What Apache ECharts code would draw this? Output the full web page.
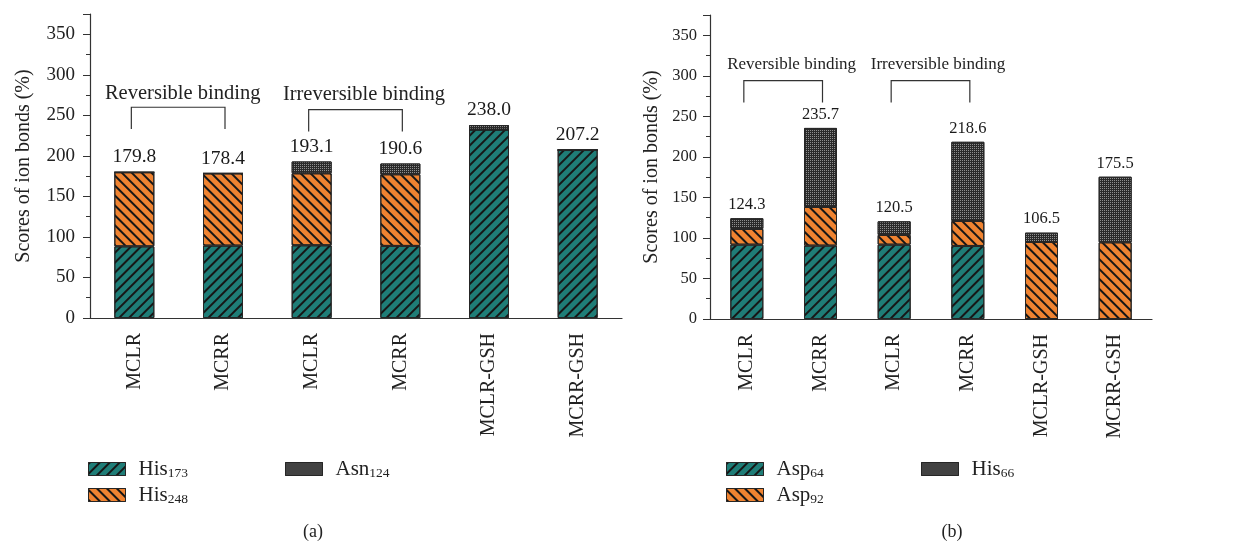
<!DOCTYPE html>
<html>
<head>
<meta charset="utf-8">
<script src="https://cdn.jsdelivr.net/npm/echarts@6/dist/echarts.min.js"></script>
<style>
  html, body { margin: 0; padding: 0; background: #fff; }
  #main { width: 1249px; height: 543px; }
</style>
</head>
<body>
<div id="main"></div>
<script>
// categories (same in both panels)
const categories = ['MCLR', 'MCRR', 'MCLR', 'MCRR', 'MCLR-GSH', 'MCRR-GSH']

// panel (a)
const his173 = [88.4, 89.3, 89.7, 88.9, 232.4, 207.2]
const his248 = [91.4, 89.1, 88.8, 88.4, 0, 0]
const asn124 = [0, 0, 14.6, 13.3, 5.6, 0]
const totalsA = [179.8, 178.4, 193.1, 190.6, 238.0, 207.2]

// panel (b)
const asp64 = [91.7, 90.5, 91.7, 90.1, 0, 0]
const asp92 = [19.4, 47.7, 12.0, 30.8, 95.0, 94.6]
const his66 = [13.2, 97.5, 16.8, 97.7, 11.5, 80.9]
const totalsB = [124.3, 235.7, 120.5, 218.6, 106.5, 175.5]

const yTicks = [0, 50, 100, 150, 200, 250, 300, 350]

const FONT = '"Liberation Serif", "DejaVu Serif", serif'
const TEAL = '#1f7d77'
const ORANGE = '#ef8331'
const DARK = '#2a2a2a'
const BORDER = '#262626'

// "/" lines on teal, "\" lines on orange, fine dots on dark
const hatchUp = { symbol: 'rect', dashArrayX: [1, 0], dashArrayY: [1.3, 4.2], rotation: -Math.PI / 4, color: '#161616' }
const hatchDown = { symbol: 'rect', dashArrayX: [1, 0], dashArrayY: [1.3, 4.2], rotation: Math.PI / 4, color: '#161616' }
const dots = { symbol: 'rect', symbolSize: 1, dashArrayX: [1, 1], dashArrayY: [1, 1], color: '#8f8f8f' }

function subName(name) {
  const m = name.match(/^([A-Za-z]+)(\d+)$/)
  return '{n|' + m[1] + '}{s|' + m[2] + '}'
}

function yAxis(grid, fs, margin, nameGap) {
  return {
    type: 'value', gridIndex: grid, min: 0, max: 375, interval: 50,
    name: 'Scores of ion bonds (%)', nameLocation: 'middle', nameRotate: 90, nameGap: nameGap,
    nameTextStyle: { fontFamily: FONT, fontSize: 20, color: '#222' },
    axisLine: { show: true, lineStyle: { color: '#333', width: 1.2 } },
    axisTick: { show: true, length: 7, lineStyle: { color: '#333' } },
    minorTick: { show: true, splitNumber: 2, length: 4, lineStyle: { color: '#333' } },
    splitLine: { show: false },
    axisLabel: {
      fontFamily: FONT, fontSize: fs, color: '#222', margin: margin, showMaxLabel: false,
      formatter: v => (yTicks.indexOf(v) >= 0 ? String(v) : '')
    }
  }
}

function xAxis(grid) {
  return {
    type: 'category', gridIndex: grid, data: categories,
    axisLine: { lineStyle: { color: '#333', width: 1.2 } },
    axisTick: { alignWithLabel: true, length: 6, lineStyle: { color: '#333' } },
    axisLabel: { rotate: 90, fontFamily: FONT, fontSize: 20, color: '#222', margin: 15, interval: 0 }
  }
}

function barSeries(name, data, grid, stack, color, decal, width) {
  return {
    name: name, type: 'bar', stack: stack, data: data,
    xAxisIndex: grid, yAxisIndex: grid, barWidth: width,
    itemStyle: { color: color, decal: decal, borderColor: BORDER, borderWidth: 1 }
  }
}

function totalSeries(data, grid, fs) {
  return {
    type: 'scatter', data: data, xAxisIndex: grid, yAxisIndex: grid,
    symbolSize: 0, silent: true,
    itemStyle: { color: '#1a1a1a' },
    label: {
      show: true, position: 'top', distance: 5,
      fontFamily: FONT, fontSize: fs, color: '#1a1a1a', opacity: 1, textBorderWidth: 0,
      formatter: p => p.value.toFixed(1)
    }
  }
}

function legend(names, left, top) {
  return {
    data: names, orient: 'vertical', left: left, top: top,
    icon: 'rect', itemWidth: 37, itemHeight: 13, itemGap: 5,
    formatter: subName,
    itemStyle: { borderColor: BORDER, borderWidth: 1 },
    textStyle: {
      padding: [0, 0, 0, 8],
      rich: {
        n: { fontFamily: FONT, fontSize: 21, color: '#222', lineHeight: 22, verticalAlign: 'bottom' },
        s: { fontFamily: FONT, fontSize: 13.5, color: '#222', lineHeight: 11, verticalAlign: 'bottom' }
      }
    }
  }
}

const chart = echarts.init(document.getElementById('main'))

chart.setOption({
  backgroundColor: '#fff',
  animation: false,
  grid: [
    { left: 90, top: 14, width: 532, height: 304 },
    { left: 710, top: 15, width: 442, height: 304 }
  ],
  xAxis: [xAxis(0), xAxis(1)],
  yAxis: [yAxis(0, 19, 15, 56), yAxis(1, 16.5, 13, 48)],
  legend: [
    legend(['His173', 'His248'], 83, 454),
    legend(['Asn124'], 280, 454),
    legend(['Asp64', 'Asp92'], 721, 454),
    legend(['His66'], 916, 454)
  ],
  series: [
    barSeries('His173', his173, 0, 'a', TEAL, hatchUp, 40),
    barSeries('His248', his248, 0, 'a', ORANGE, hatchDown, 40),
    barSeries('Asn124', asn124, 0, 'a', DARK, dots, 40),
    totalSeries(totalsA, 0, 19.5),
    barSeries('Asp64', asp64, 1, 'b', TEAL, hatchUp, 33),
    barSeries('Asp92', asp92, 1, 'b', ORANGE, hatchDown, 33),
    barSeries('His66', his66, 1, 'b', DARK, dots, 33),
    totalSeries(totalsB, 1, 16.5)
  ]
})

// bracket annotations, placed in data space
const brackets = [
  { grid: 0, from: 0, to: 1, top: 260, bottom: 233, text: 'Reversible binding', textY: 277, dx: 4, fs: 20.5 },
  { grid: 0, from: 2, to: 3, top: 257, bottom: 230, text: 'Irreversible binding', textY: 275, dx: 8, fs: 20.5 },
  { grid: 1, from: 0, to: 1, top: 294, bottom: 267, text: 'Reversible binding', textY: 314, dx: 8, fs: 17 },
  { grid: 1, from: 2, to: 3, top: 294, bottom: 267, text: 'Irreversible binding', textY: 314, dx: 7, fs: 17 }
]

const graphics = []
brackets.forEach(b => {
  const finder = { xAxisIndex: b.grid, yAxisIndex: b.grid }
  const p1 = chart.convertToPixel(finder, [b.from, b.top])
  const p2 = chart.convertToPixel(finder, [b.to, b.top])
  const yb = chart.convertToPixel(finder, [b.from, b.bottom])[1]
  const yt = chart.convertToPixel(finder, [b.from, b.textY])[1]
  graphics.push({
    type: 'polyline', silent: true,
    shape: { points: [[p1[0] - 3, yb], [p1[0] - 3, p1[1]], [p2[0] + 2, p2[1]], [p2[0] + 2, yb]] },
    style: { stroke: '#333', lineWidth: 1.2, fill: null }
  })
  graphics.push({
    type: 'text', silent: true,
    x: (p1[0] + p2[0]) / 2 + b.dx, y: yt,
    style: { text: b.text, font: b.fs + 'px ' + FONT, fill: '#222', align: 'center', verticalAlign: 'middle' }
  })
})
graphics.push({ type: 'text', x: 313, y: 532, style: { text: '(a)', font: '18px ' + FONT, fill: '#222', align: 'center', verticalAlign: 'middle' } })
graphics.push({ type: 'text', x: 952, y: 532, style: { text: '(b)', font: '18px ' + FONT, fill: '#222', align: 'center', verticalAlign: 'middle' } })

chart.setOption({ graphic: graphics })
</script>
</body>
</html>
